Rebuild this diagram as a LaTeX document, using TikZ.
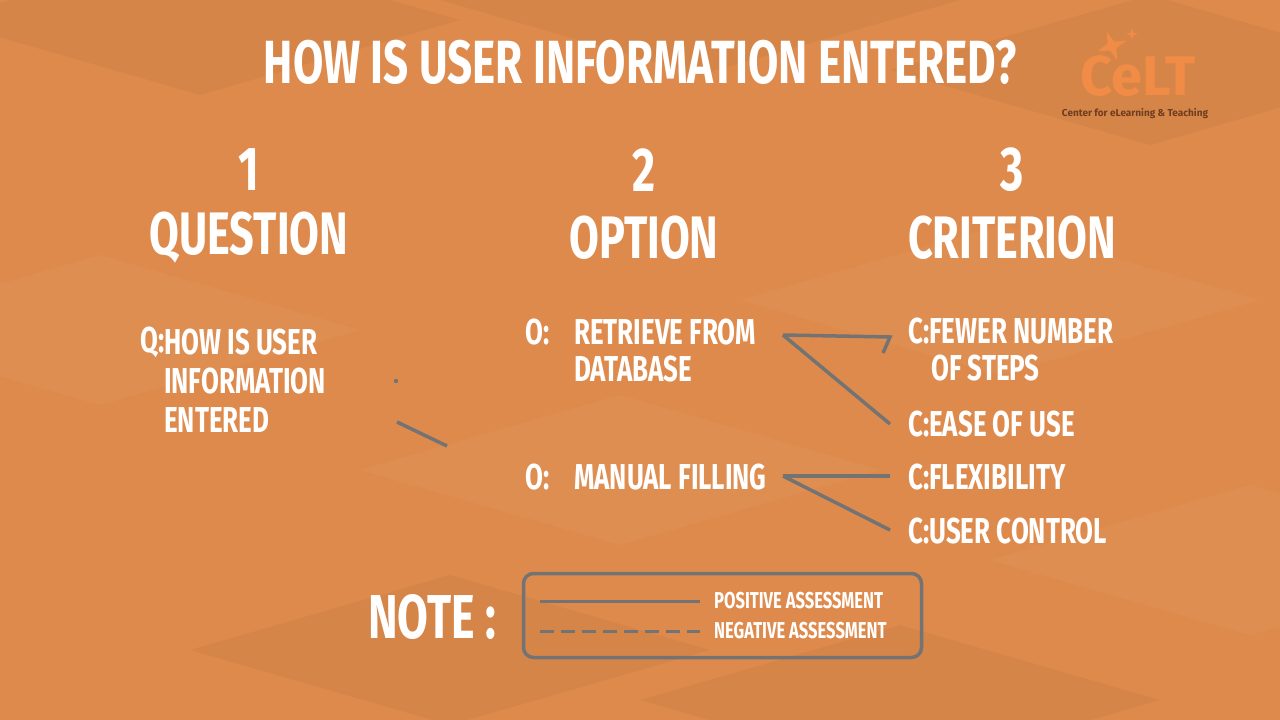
\documentclass[tikz,border=0pt]{standalone}
\usepackage{fontspec}
\usetikzlibrary{shapes.geometric}
\setmainfont{Fira Sans}[UprightFont=* Bold, FakeStretch=0.72]
\newfontfamily\logofont{Fira Sans}[UprightFont=* Bold]
\begin{document}
\begin{tikzpicture}[x=1pt,y=-1pt,
  txt/.style={text=white,inner sep=0pt,font=\fontsize{#1}{#1}\selectfont},
  txt/.default=36,
  con/.style={draw=gray!90!black,line width=3.5pt},
  deco/.style={fill=#1,opacity=0.035}]
\fill[fill={rgb,255:red,222;green,138;blue,76}] (0,0) rectangle (1280,720);
\useasboundingbox (0,0) rectangle (1280,720);
\foreach \cx/\cy/\c in {200/20/black,700/0/black,1150/70/black,100/330/white,1000/300/white,450/650/black,900/700/black,1250/560/white,620/470/white}
  \fill[deco=\c] (\cx-260,\cy) -- (\cx,\cy-75) -- (\cx+260,\cy) -- (\cx,\cy+75) -- cycle;
% logo
\node[inner sep=0pt,text={rgb,255:red,240;green,140;blue,70},font=\logofont\fontsize{56}{56}\selectfont] (logo) at (1138,76) {CeLT};
\node[inner sep=0pt,text={rgb,255:red,110;green,60;blue,30},font=\logofont\fontsize{10}{10}\selectfont] (logosub) at (1135,114) {Center for eLearning \& Teaching};
\node[star,star points=4,star point ratio=3,fill={rgb,255:red,240;green,140;blue,70},inner sep=0pt,minimum size=30pt,rotate=20] (star) at (1112,46) {};
\node[star,star points=4,star point ratio=3,fill={rgb,255:red,240;green,140;blue,70},inner sep=0pt,minimum size=12pt] (star2) at (1132,34) {};
% title
\node[txt=61] (title) at (640,62) {HOW IS USER INFORMATION ENTERED?};
\node[txt=62] (n1) at (249,170) {1};
\node[txt=60] (h1) at (249,238) {QUESTION};
\node[txt=62] (n2) at (644,170) {2};
\node[txt=60] (h2) at (644,238) {OPTION};
\node[txt=62] (n3) at (1012,170) {3};
\node[txt=60] (h3) at (1012,238) {CRITERION};
% question
\node[txt,anchor=west] (qp) at (140,342) {Q:};
\node[txt,anchor=west] (q1) at (164,342) {HOW IS USER};
\node[txt,anchor=west] (q2) at (164,381) {INFORMATION};
\node[txt,anchor=west] (q3) at (164,420) {ENTERED};
% options
\node[txt,anchor=west] (op1) at (525,332) {O:};
\node[txt,anchor=west] (o1a) at (574,332) {RETRIEVE FROM};
\node[txt,anchor=west] (o1b) at (574,369) {DATABASE};
\node[txt,anchor=west] (op2) at (525,477) {O:};
\node[txt,anchor=west] (o2) at (574,477) {MANUAL FILLING};
% criteria
\node[txt,anchor=west] (c1a) at (908,331) {C:FEWER NUMBER};
\node[txt,anchor=west] (c1b) at (931,368) {OF STEPS};
\node[txt,anchor=west] (c2) at (908,424) {C:EASE OF USE};
\node[txt,anchor=west] (c3) at (908,477) {C:FLEXIBILITY};
\node[txt,anchor=west] (c4) at (908,531) {C:USER CONTROL};
% connectors
\coordinate (s1) at (783,335);
\coordinate (s2) at (783,476);
\coordinate (e1) at (890,337);
\coordinate (e2) at (890,424);
\coordinate (e3) at (890,476);
\coordinate (e4) at (890,530);
\draw[con] (s1) -- (e1) -- ++(-7,16);
\draw[con] (s1) -- (e2);
\draw[con] (s2) -- (e3);
\draw[con] (s2) -- (e4);
\coordinate (qa) at (397,422);
\coordinate (qb) at (447,446);
\draw[con] (qa) -- (qb);
\fill[gray!90!black] (396,381) circle (2.2);
% note
\node[txt=62] (note) at (432,617) {NOTE :};
\node[draw=gray!90!black,line width=3.5pt,rounded corners=10pt,minimum width=398pt,minimum height=84pt] (box) at (722.5,615.5) {};
\coordinate (l1a) at (540,601);
\coordinate (l1b) at (700,601);
\coordinate (l2a) at (540,631);
\coordinate (l2b) at (700,631);
\draw[con,line width=3pt] (l1a) -- (l1b);
\draw[con,line width=3pt,dash pattern=on 14pt off 7pt] (l2a) -- (l2b);
\node[txt=23,anchor=west] (pos) at (714,601) {POSITIVE ASSESSMENT};
\node[txt=23,anchor=west] (neg) at (714,631) {NEGATIVE ASSESSMENT};
\end{tikzpicture}
\end{document}
